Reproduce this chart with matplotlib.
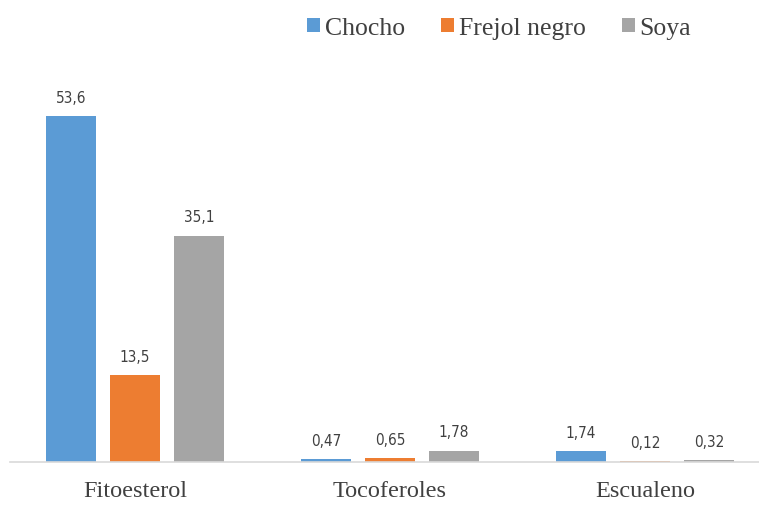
import matplotlib
matplotlib.use("Agg")
import matplotlib.pyplot as plt
import numpy as np

categories = ["Fitoesterol", "Tocoferoles", "Escualeno"]
series_names = ["Chocho", "Frejol negro", "Soya"]
chocho = [53.6, 0.47, 1.74]
frejol = [13.5, 0.65, 0.12]
soya = [35.1, 1.78, 0.32]
labels_chocho = ["53,6", "0,47", "1,74"]
labels_frejol = ["13,5", "0,65", "0,12"]
labels_soya = ["35,1", "1,78", "0,32"]
colors = ["#5B9BD5", "#ED7D31", "#A5A5A5"]

fig = plt.figure(figsize=(7.59, 5.06), dpi=100)
ax = fig.add_axes([10/759, 1-463/506, 749/759, (463-75)/506])

x = np.arange(len(categories))
step = 64/255
width = 50/255
data = [chocho, frejol, soya]
labs = [labels_chocho, labels_frejol, labels_soya]
for i, (vals, lab, col, name) in enumerate(zip(data, labs, colors, series_names)):
    pos = x + (i-1)*step
    bars = ax.bar(pos, vals, width, color=col, label=name)
    for b, v, t in zip(bars, vals, lab):
        ax.annotate(t, (b.get_x()+b.get_width()/2, v), xytext=(0, 8),
                    textcoords="offset points", ha="center", va="bottom",
                    fontsize=11, color="#404040", family="DejaVu Sans",
                    fontstretch="condensed")

ax.set_xlim(-0.49, 2.447)
ax.set_ylim(0, (463-75)/6.45)
ax.set_xticks(x)
ax.set_xticklabels(categories, fontsize=17.5, family="Liberation Serif", color="#404040")
ax.tick_params(axis="x", length=0, pad=13)
ax.set_yticks([])
for s in ["top", "right", "left"]:
    ax.spines[s].set_visible(False)
ax.spines["bottom"].set_color("#D9D9D9")
ax.spines["bottom"].set_linewidth(1.2)

leg = fig.legend(loc="center", bbox_to_anchor=(499/759, 1-29/506), ncol=3, frameon=False,
                 prop={"family": "Liberation Serif", "size": 18.5}, handlelength=0.5,
                 handleheight=0.5, handletextpad=0.2, columnspacing=1.4)
for t in leg.get_texts():
    t.set_color("#404040")

fig.savefig("out.png", dpi=100)
